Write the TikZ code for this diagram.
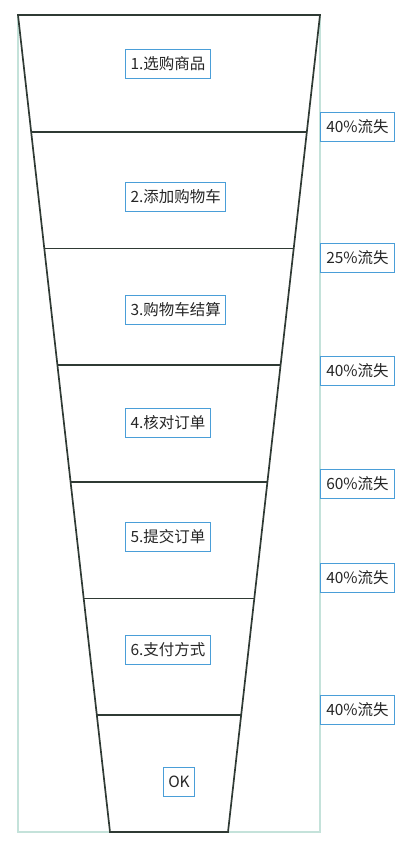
\documentclass[tikz,border=0pt]{standalone}
\usepackage{fontspec}
\newfontfamily\cjk{Noto Sans CJK SC}
\usetikzlibrary{calc}
\definecolor{funnelgray}{HTML}{2F3A34}
\definecolor{boxblue}{HTML}{4A9ED8}
\definecolor{framegreen}{HTML}{C4E2DA}
\begin{document}
\begin{tikzpicture}[x=0.025cm, y=-0.025cm,
    stage/.style={draw=boxblue, line width=0.9pt, fill=white, text=black!85, font=\cjk\fontsize{11}{13}\selectfont, minimum height=0.72cm, inner xsep=3.5pt, anchor=west},
    loss/.style={stage, inner xsep=4pt},
    funnel/.style={draw=funnelgray, line width=1.2pt}]
            \useasboundingbox (0,0) rectangle (410,860);
            \draw[framegreen, line width=0.8pt] (18,15) rectangle (320,832);

            \coordinate(top_left) at (18,15);
            \coordinate(top_right) at (320,15);
            \coordinate(bottom_left) at (110,832);
            \coordinate(bottom_right) at (228,832);
            \draw[funnel, line join=miter] (top_left) -- (top_right) -- (bottom_right) -- (bottom_left) -- cycle;
            \foreach \i in {1,...,6}
                \draw[funnel] ($(top_left)!\i/7!(bottom_left)$) -- ($(top_right)!\i/7!(bottom_right)$);

            \node(stage1) at (125,64) [stage] {1.选购商品};
            \node(stage2) at (125,197) [stage] {2.添加购物车};
            \node(stage3) at (125,310) [stage] {3.购物车结算};
            \node(stage4) at (125,423) [stage] {4.核对订单};
            \node(stage5) at (125,537) [stage] {5.提交订单};
            \node(stage6) at (125,650) [stage] {6.支付方式};
            \node(stage_ok) at (179,782) [stage, anchor=center] {OK};

            \node(loss1) at (320,127) [loss] {40\%流失};
            \node(loss2) at (320,258) [loss] {25\%流失};
            \node(loss3) at (320,371) [loss] {40\%流失};
            \node(loss4) at (320,484) [loss] {60\%流失};
            \node(loss5) at (320,578) [loss] {40\%流失};
            \node(loss6) at (320,710) [loss] {40\%流失};
        \end{tikzpicture}
\end{document}
